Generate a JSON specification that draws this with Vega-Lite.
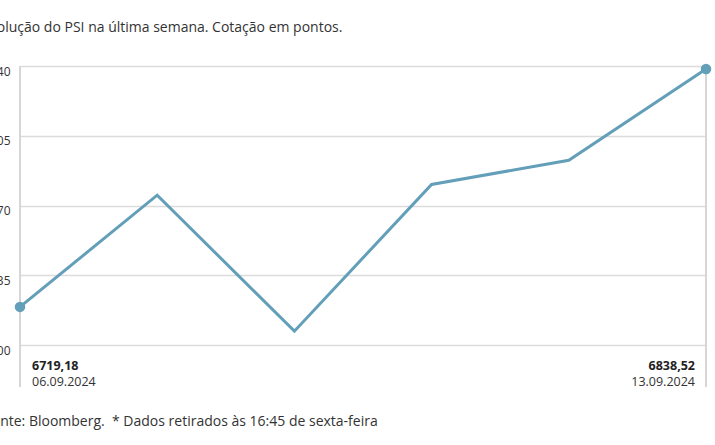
{
  "$schema": "https://vega.github.io/schema/vega-lite/v6.json",
  "autosize": "none",
  "width": 686,
  "height": 321,
  "padding": {"left": 20, "top": 66, "right": 9, "bottom": 58},
  "background": "#ffffff",
  "config": {
    "view": {"stroke": null},
    "font": "Open Sans",
    "locale": {"number": {"decimal": ",", "thousands": ".", "grouping": [3], "currency": ["", " €"]}}
  },
  "title": {
    "text": "Evolução do PSI na última semana. Cotação em pontos.",
    "anchor": "start",
    "frame": "group",
    "dx": -38,
    "offset": 28,
    "fontSize": 14,
    "fontWeight": "normal",
    "color": "#333333"
  },
  "data": {
    "values": [
      {"date": "06.09.2024", "value": 6719.18},
      {"date": "09.09.2024", "value": 6775.2},
      {"date": "10.09.2024", "value": 6707.0},
      {"date": "11.09.2024", "value": 6780.6},
      {"date": "12.09.2024", "value": 6792.7},
      {"date": "13.09.2024", "value": 6838.52}
    ]
  },
  "encoding": {
    "x": {
      "field": "date",
      "type": "ordinal",
      "sort": "ascending",
      "scale": {"type": "point", "padding": 0},
      "axis": {
        "labels": false,
        "ticks": false,
        "domain": false,
        "grid": false,
        "title": "Fonte: Bloomberg.\u00a0 * Dados retirados às 16:45 de sexta-feira",
        "titleX": -36,
        "titleY": 34,
        "titleAlign": "left",
        "titleBaseline": "middle",
        "titleFontSize": 14,
        "titleFontWeight": "normal",
        "titleColor": "#333333"
      }
    }
  },
  "layer": [
    {
      "mark": {"type": "rule", "color": "#d6d6d6", "strokeWidth": 2},
      "transform": [{"filter": "datum.date == '06.09.2024' || datum.date == '13.09.2024'"}],
      "encoding": {}
    },
    {
      "mark": {"type": "line", "color": "#639fb8", "strokeWidth": 3},
      "encoding": {
        "y": {
          "field": "value",
          "type": "quantitative",
          "scale": {"domain": [6679, 6840], "nice": false, "zero": false},
          "axis": {
            "values": [6700, 6735, 6770, 6805, 6840],
            "format": "d",
            "title": null,
            "domain": false,
            "ticks": false,
            "grid": true,
            "gridColor": "#dcdcdc",
            "gridWidth": 1.5,
            "labelFontSize": 12,
            "labelColor": "#333333",
            "labelPadding": 10,
            "labelBaseline": "middle",
            "labelOffset": 5
          }
        }
      }
    },
    {
      "mark": {"type": "point", "filled": true, "color": "#639fb8", "opacity": 1, "size": 110},
      "transform": [{"filter": "datum.date == '06.09.2024' || datum.date == '13.09.2024'"}],
      "encoding": {"y": {"field": "value", "type": "quantitative"}}
    },
    {
      "mark": {"type": "text", "align": "left", "baseline": "middle", "dx": 12, "fontSize": 12.5, "fontWeight": "bold", "color": "#222222"},
      "transform": [{"filter": "datum.date == '06.09.2024'"}],
      "encoding": {"y": {"datum": 6689.3}, "text": {"field": "value", "type": "quantitative", "format": ".2f"}}
    },
    {
      "mark": {"type": "text", "align": "left", "baseline": "middle", "dx": 12, "fontSize": 12.5, "color": "#333333"},
      "transform": [{"filter": "datum.date == '06.09.2024'"}],
      "encoding": {"y": {"datum": 6681.3}, "text": {"field": "date", "type": "nominal"}}
    },
    {
      "mark": {"type": "text", "align": "right", "baseline": "middle", "dx": -11, "fontSize": 12.5, "fontWeight": "bold", "color": "#222222"},
      "transform": [{"filter": "datum.date == '13.09.2024'"}],
      "encoding": {"y": {"datum": 6689.3}, "text": {"field": "value", "type": "quantitative", "format": ".2f"}}
    },
    {
      "mark": {"type": "text", "align": "right", "baseline": "middle", "dx": -11, "fontSize": 12.5, "color": "#333333"},
      "transform": [{"filter": "datum.date == '13.09.2024'"}],
      "encoding": {"y": {"datum": 6681.3}, "text": {"field": "date", "type": "nominal"}}
    }
  ]
}
